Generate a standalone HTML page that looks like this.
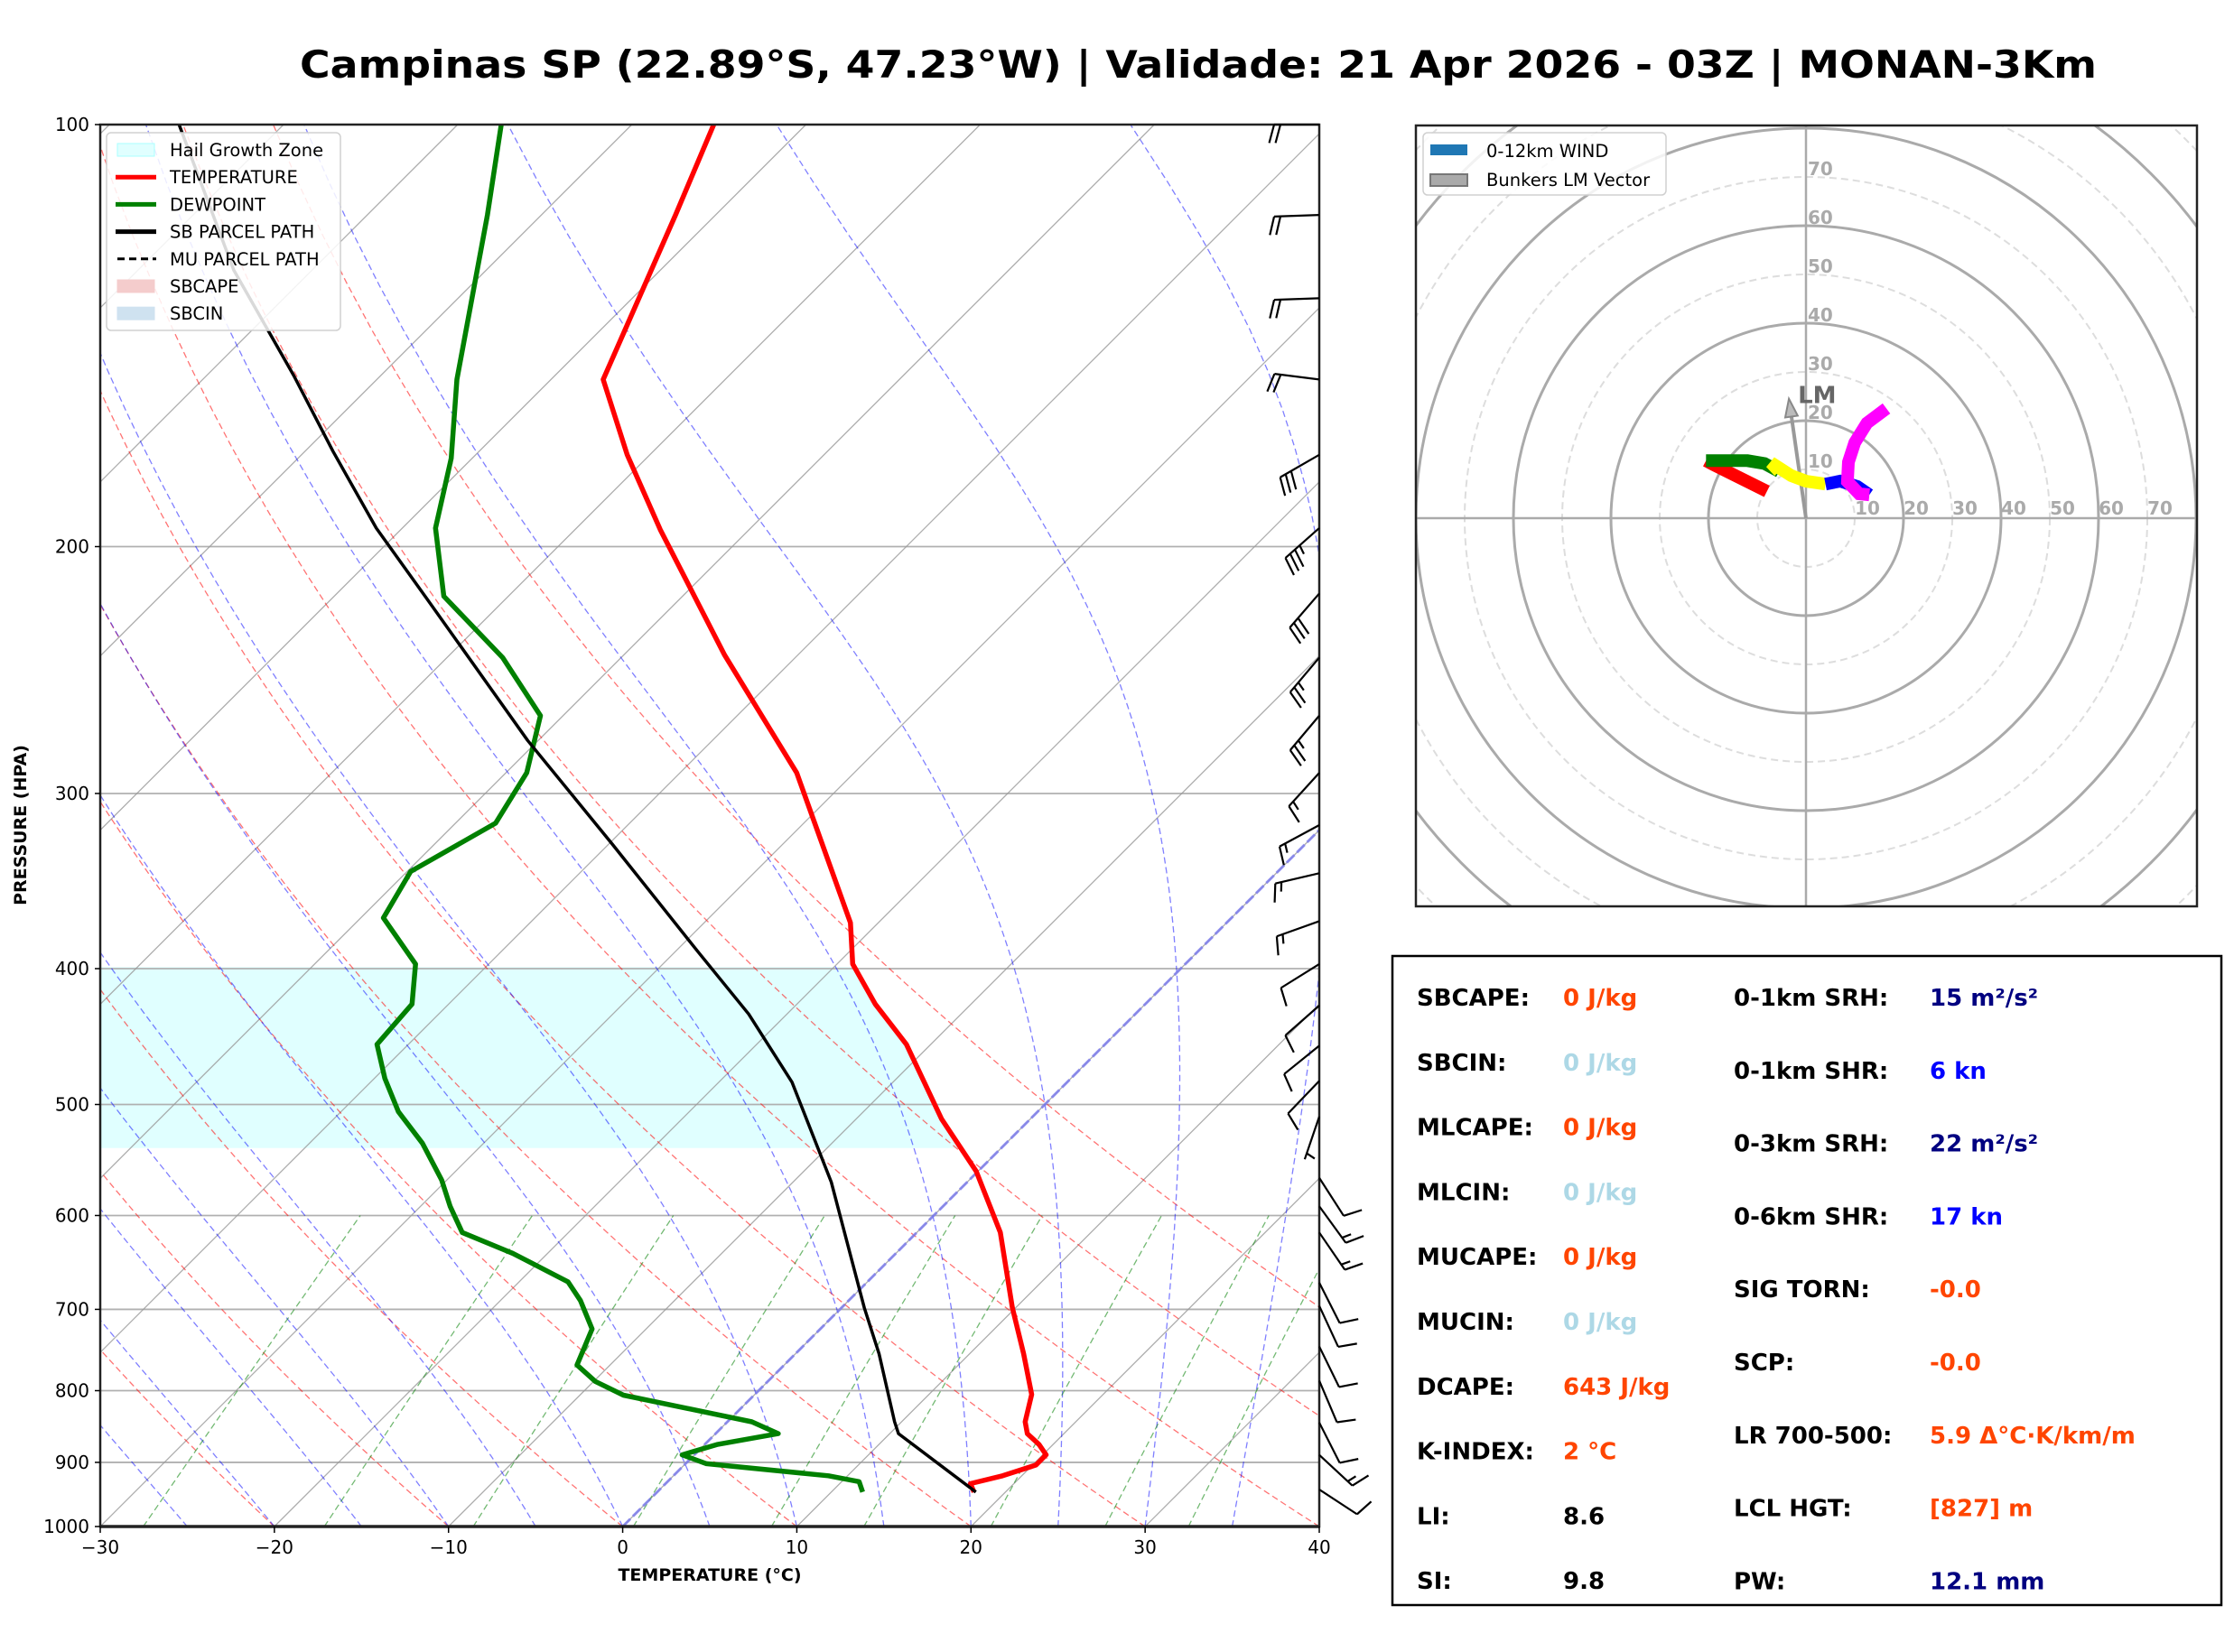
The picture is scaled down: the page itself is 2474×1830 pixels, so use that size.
<!DOCTYPE html>
<html><head><meta charset="utf-8">
<style>
html,body{margin:0;padding:0;background:#fff;}
svg{display:block;}
text{font-family:"DejaVu Sans","Liberation Sans",sans-serif;}
</style></head>
<body>
<svg id="fig" xmlns="http://www.w3.org/2000/svg" width="2474" height="1830" viewBox="0 0 2474 1830">
<rect x="0" y="0" width="2474" height="1830" fill="#fff"/>
<text x="332" y="86" font-size="42" font-weight="bold" textLength="1990" lengthAdjust="spacingAndGlyphs">Campinas SP (22.89°S, 47.23°W) | Validade: 21 Apr 2026 - 03Z | MONAN-3Km</text>
<defs>
<clipPath id="skclip"><rect x="111" y="138" width="1350" height="1553"/></clipPath>
<clipPath id="hodoclip"><rect x="1568" y="139" width="865" height="865"/></clipPath>
</defs>
<g id="skew"></g>
<g id="hodo"></g>
<g id="table"></g>
</svg>
<script>
// ---------- Sounding data ----------
const tempP = [945,932,920,904,889,874,858.5,842,805,753,698,617,558,512,453,424,397,371,290,239,194.5,172,152,116,100];
const tempT = [18.2,17.5,18.9,20.2,20.2,19.2,17.9,17.1,15.9,13.1,9.8,4.8,-0.1,-5.1,-11.4,-15.5,-19.1,-21.6,-33.3,-44.2,-55.1,-61.3,-67,-72.3,-75.3];
const dewP = [945,929,920,902,889,874,858.5,842,806,788,767,723,690,669,638.5,617,591,566,533,506,479,453,424,397,368,341,315,290,264,240,217,194,173,152,116,100];
const dewT = [11.8,11,8.9,1.2,-0.7,0.7,3.6,1.4,-7.5,-9.9,-11.9,-13.1,-15.4,-17.2,-22,-26.1,-28.3,-30.3,-33.5,-36.7,-39.4,-41.8,-42.1,-44.2,-48.7,-49.8,-47.7,-48.8,-51.3,-56.8,-63.7,-68.1,-71.2,-75.4,-83.1,-87.5];
const parcelP = [945,858.5,842,753,698,568,482,431,389,326,275,218,194,171,151,127,100];
const parcelT = [18.3,10.5,9.6,4.8,1.3,-7.8,-15.8,-22.2,-28.7,-39.8,-50.6,-64.5,-71.5,-78.4,-85,-94.5,-106];
const barbP = [100,116,133,152,172,194,216,240,264,290,316,342,370,397,425,454,481,510,564,591,617,670,696,744,787,843,889,941];
const barbU = [20,20,20,19.8,26,26,19.5,16,16,10,13,14.6,14,8.5,7.5,7.8,6.9,1.6,-5.4,-8.8,-8.5,-4.5,-4.2,-4.4,-3.9,-4.5,-11,-8.4];
const barbV = [0,0.7,0.7,-2.5,15,23,22.6,19,19,11,7,3.4,5,5.3,6.6,6.3,7.2,4.7,8.4,12.1,12.4,8.9,9.1,9,9.2,8.9,10.2,5.5];
const pressureTicks = [100,200,300,400,500,600,700,800,900,1000];
const tempTicks = [-30,-20,-10,0,10,20,30,40];
const hailTopP = 399, hailBotP = 537;
// ---------- Hodograph data ----------
const hodoU = [-8,-12,-16,-19,-20.5, -17.5,-12,-8.5,-5.5, -7.2,-3,0,4, 7,10.5,13, 10.9,8.5,8.7,10,12.5,16.5];
const hodoV = [5.5,7.5,9.5,11,11.8, 11.8,11.8,11.2,9.6, 11.4,8.7,7.6,7, 7.6,6.5,4.8, 5,7.5,11.5,15.5,19.5,22.5];
const hodoGroup = [0,0,0,0,0, 1,1,1,1, 2,2,2,2, 3,3,3, 4,4,4,4,4,4];
const hodoColors = ['#ff0000','#008000','#ffff00','#0000ff','#ff00ff'];
const lmU = -3.5, lmV = 24.5;
const ringKnots = [10,20,30,40,50,60,70,80,90,100,110,120];

const NS='http://www.w3.org/2000/svg';
function el(tag, attrs, parent){const e=document.createElementNS(NS,tag);for(const k in attrs)e.setAttribute(k,attrs[k]);parent.appendChild(e);return e;}

const X0=111,X1=1461,Y0=138,Y1=1691,PX=(1461-111)/70;
function yP(p){return Y1-1553*Math.log10(1000/p);}
function xT(t,p){return X0+(t+30)*PX+(Y1-yP(p));}
function ptsStr(P,T){return P.map((p,i)=>xT(T[i],p).toFixed(1)+','+yP(p).toFixed(1)).join(' ');}

const skew=document.getElementById('skew');
const bg=el('g',{'clip-path':'url(#skclip)'},skew);



function interpT(p){for(let i=0;i<tempP.length-1;i++){const a=tempP[i],b=tempP[i+1];if(p<=a&&p>=b){const f=Math.log(a/p)/Math.log(a/b);return tempT[i]+f*(tempT[i+1]-tempT[i]);}}return tempT[tempT.length-1];}
// hail growth zone
(function(){
  const pts=[];const steps=40;
  for(let i=0;i<=steps;i++){const p=hailTopP+(hailBotP-hailTopP)*i/steps;
    let t=interpT(p);pts.push(xT(t,p).toFixed(1)+','+yP(p).toFixed(1));}
  pts.push(X0+','+yP(hailBotP).toFixed(1));pts.push(X0+','+yP(hailTopP).toFixed(1));
  const h=el('polygon',{points:pts.join(' '),fill:'#e0ffff',stroke:'none'},bg);
  
  
})();

// pressure gridlines
pressureTicks.forEach(p=>{const l=el('line',{x1:X0,x2:X1,y1:yP(p),y2:yP(p),stroke:'#b0b0b0','stroke-width':1.8},bg);
  
  });
// isotherms
for(let t=-110;t<=40;t+=10){const l=el('line',{x1:xT(t,1000),y1:Y1,x2:xT(t,100),y2:Y0,stroke:'#999','stroke-width':1.3,'stroke-opacity':0.8},bg);
  
  }
// dry adiabats
for(let th=-30;th<=60;th+=10){const pts=[];for(let p=1000;p>=100;p-=10){const t=(th+273.15)*Math.pow(p/1000,0.2857)-273.15;pts.push(xT(t,p).toFixed(1)+','+yP(p).toFixed(1));}
  const l=el('polyline',{points:pts.join(' '),fill:'none',stroke:'#ff0000','stroke-opacity':0.55,'stroke-width':1.3,'stroke-dasharray':'7,4'},bg);
  
  }
// moist adiabats
function es(T){return 6.112*Math.exp(17.67*(T-273.15)/(T-29.65));}
for(let t0=-30;t0<=40;t0+=5){let T=t0+273.15;const pts=[];
  for(let p=1000;p>=100;p-=2){if(p%10===0)pts.push(xT(T-273.15,p).toFixed(1)+','+yP(p).toFixed(1));
    const e=es(T),rs=0.622*e/(p-e);const Rd=287.04,Cp=1005.7,Lv=2.501e6;
    const dTdp=(1/p)*(Rd*T+Lv*rs)/(Cp+Lv*Lv*rs*0.622/(Rd*T*T));T-=dTdp*2;}
  const l=el('polyline',{points:pts.join(' '),fill:'none',stroke:'#0000ff','stroke-opacity':0.5,'stroke-width':1.3,'stroke-dasharray':'7,4'},bg);
  
  }
// mixing ratio lines
[0.0004,0.001,0.002,0.004,0.007,0.01,0.016,0.024,0.032].forEach(w=>{const pts=[];
  for(let p=1000;p>=600;p-=20){const e=w*p/(0.622+w);const g=Math.log(e/6.112);const td=243.5*g/(17.67-g);pts.push(xT(td,p).toFixed(1)+','+yP(p).toFixed(1));}
  const l=el('polyline',{points:pts.join(' '),fill:'none',stroke:'#008000','stroke-opacity':0.55,'stroke-width':1.3,'stroke-dasharray':'7,4'},bg);
  
  });
// freezing isotherm
(function(){const l=el('line',{x1:xT(0,1000),y1:Y1,x2:xT(0,100),y2:Y0,stroke:'#7b7bef','stroke-opacity':0.8,'stroke-width':3,'stroke-dasharray':'12,4'},bg);
  
  })();

// profiles
const tl=el('polyline',{points:ptsStr(tempP,tempT),fill:'none',stroke:'#ff0000','stroke-width':5.5,'stroke-linejoin':'round'},bg);


const dl=el('polyline',{points:ptsStr(dewP,dewT),fill:'none',stroke:'#008000','stroke-width':5.5,'stroke-linejoin':'round'},bg);


const pl=el('polyline',{points:ptsStr(parcelP,parcelT),fill:'none',stroke:'#000','stroke-width':3.5,'stroke-linejoin':'round'},bg);



// frame
const fr=el('rect',{x:X0,y:Y0,width:X1-X0,height:Y1-Y0,fill:'none',stroke:'#222','stroke-width':2.5},skew);


el('line',{x1:X0,x2:X1,y1:Y1,y2:Y1,stroke:'#222','stroke-width':3.5},skew);

// ticks
pressureTicks.forEach(p=>{const y=yP(p);el('line',{x1:X0-6,x2:X0,y1:y,y2:y,stroke:'#000','stroke-width':1.5},skew);
  const t=el('text',{x:X0-12,y:y+7,'font-size':20,'text-anchor':'end'},skew);t.textContent=p;
  
  });
tempTicks.forEach(v=>{const x=xT(v,1000);el('line',{x1:x,x2:x,y1:Y1,y2:Y1+7,stroke:'#000','stroke-width':1.5},skew);
  const t=el('text',{x:x,y:Y1+30,'font-size':20,'text-anchor':'middle'},skew);t.textContent=(v<0?'\u2212'+(-v):''+v);
  
  });
(function(){const t=el('text',{x:786,y:1751,'font-size':19,'font-weight':'bold','text-anchor':'middle'},skew);t.textContent='TEMPERATURE (°C)';
  
  
  const t2=el('text',{x:0,y:0,'font-size':19,'font-weight':'bold','text-anchor':'middle',transform:'translate(29,914) rotate(-90)'},skew);t2.textContent='PRESSURE (HPA)';
  
  })();

// wind barbs
barbP.forEach((p,i)=>{const u=barbU[i],v=barbV[i];const s=Math.hypot(u,v);const dx=-u/s,dy=v/s;
  const bx=X1,by=yP(p),L=50;const tx=bx+dx*L,ty=by+dy*L;
  const g=el('g',{stroke:'#000','stroke-width':2.2,fill:'none'},skew);
  
  
  el('line',{x1:bx,y1:by,x2:tx,y2:ty},g);
  const px=dy,py=-dx;const r=Math.round(s/5)*5;let full=Math.floor(r/10),half=(r%10)>=5;
  let pos=0;for(let k=0;k<full;k++){const sx=tx-dx*pos,sy=ty-dy*pos;el('line',{x1:sx,y1:sy,x2:sx+21*(0.97*px+0.26*dx),y2:sy+21*(0.97*py+0.26*dy)},g);pos+=7;}
  if(half){if(full===0)pos=7;const sx=tx-dx*pos,sy=ty-dy*pos;el('line',{x1:sx,y1:sy,x2:sx+10.5*(0.97*px+0.26*dx),y2:sy+10.5*(0.97*py+0.26*dy)},g);}
});

// skew-T legend
(function(){const g=el('g',{},skew);
  
  
  el('rect',{x:118,y:147,width:259,height:219,rx:5,fill:'#fff','fill-opacity':0.85,stroke:'#d0d0d0','stroke-width':1.5},g);
  const items=[['Hail Growth Zone','patch','#e0ffff','#aaffff'],['TEMPERATURE','line','#ff0000'],['DEWPOINT','line','#008000'],['SB PARCEL PATH','line','#000'],['MU PARCEL PATH','dash','#000'],['SBCAPE','patch','#f4cccc','#f4cccc'],['SBCIN','patch','#cfe2f0','#cfe2f0']];
  items.forEach((it,i)=>{const y=166+i*30.2;
    if(it[1]==='patch')el('rect',{x:130,y:y-7,width:41,height:14,fill:it[2],stroke:it[3],'stroke-width':1},g);
    else if(it[1]==='line')el('line',{x1:128,x2:173,y1:y,y2:y,stroke:it[2],'stroke-width':5},g);
    else el('line',{x1:130,x2:173,y1:y,y2:y,stroke:it[2],'stroke-width':3,'stroke-dasharray':'8,5'},g);
    const t=el('text',{x:188,y:y+7,'font-size':19.5},g);t.textContent=it[0];
    
    });})();

// ---------- Hodograph ----------
const hodo=document.getElementById('hodo');
const HC={x:2000,y:574},KN=5.4;
const hg=el('g',{'clip-path':'url(#hodoclip)'},hodo);
ringKnots.forEach(k=>{const solid=(k%20===0);const c=el('circle',{cx:HC.x,cy:HC.y,r:k*KN,fill:'none',stroke:solid?'#aaa':'#ddd','stroke-width':solid?3:2,'stroke-dasharray':solid?'none':'8,5'},hg);
  
  });
el('line',{x1:1568,x2:2433,y1:HC.y,y2:HC.y,stroke:'#aaa','stroke-width':2.5},hg);
el('line',{x1:HC.x,x2:HC.x,y1:139,y2:1004,stroke:'#aaa','stroke-width':2.5},hg);
[10,20,30,40,50,60,70].forEach(k=>{const t=el('text',{x:HC.x+k*KN+14,y:HC.y-4,'font-size':20,'font-weight':'bold',fill:'#aaa','text-anchor':'middle'},hodo);t.textContent=k;
  
  
  const t2=el('text',{x:HC.x+2,y:HC.y-k*KN-2,'font-size':20,'font-weight':'bold',fill:'#aaa'},hodo);t2.textContent=k;
  
  });
// LM vector
(function(){const ex=HC.x+lmU*KN,ey=HC.y-lmV*KN;const ang=Math.atan2(ey-HC.y,ex-HC.x);
  const L=Math.hypot(ex-HC.x,ey-HC.y)-20;const sx=HC.x+L*Math.cos(ang),sy=HC.y+L*Math.sin(ang);
  const a=el('line',{x1:HC.x,y1:HC.y,x2:sx,y2:sy,stroke:'#999','stroke-width':4},hodo);
  
  
  const nx=-Math.sin(ang),ny=Math.cos(ang);
  el('polygon',{points:`${ex},${ey} ${sx+nx*7},${sy+ny*7} ${sx-nx*7},${sy-ny*7}`,fill:'#bbb',stroke:'#888','stroke-width':2},hodo);
  const t=el('text',{x:ex+10,y:ey+5,'font-size':26,'font-weight':'bold',fill:'#666'},hodo);t.textContent='LM';
  
  })();
// wind trace
for(let g=0;g<hodoColors.length;g++){const pts=[];
  for(let i=0;i<hodoU.length;i++){if(hodoGroup[i]===g){if(pts.length===0&&i>0&&g>0)pts.push((HC.x+hodoU[i-1]*KN).toFixed(1)+','+(HC.y-hodoV[i-1]*KN).toFixed(1));pts.push((HC.x+hodoU[i]*KN).toFixed(1)+','+(HC.y-hodoV[i]*KN).toFixed(1));}}
  const l=el('polyline',{points:pts.join(' '),fill:'none',stroke:hodoColors[g],'stroke-width':14,'stroke-linejoin':'miter'},hodo);
  
  }
(function(){const f=el('rect',{x:1568,y:139,width:865,height:865,fill:'none',stroke:'#222','stroke-width':2.5},hodo);
  
  
  const g=el('g',{},hodo);
  
  
  el('rect',{x:1576,y:147,width:269,height:69,rx:5,fill:'#fff','fill-opacity':0.85,stroke:'#d0d0d0','stroke-width':1.5},g);
  el('rect',{x:1584,y:160,width:41,height:12,fill:'#1f77b4'},g);
  el('rect',{x:1584,y:193,width:41,height:13,fill:'#aaa',stroke:'#777','stroke-width':2},g);
  const t1=el('text',{x:1646,y:174,'font-size':19.5},g);t1.textContent='0-12km WIND';
  
  
  const t2=el('text',{x:1646,y:206,'font-size':19.5},g);t2.textContent='Bunkers LM Vector';
  
  })();

// ---------- Table ----------
const table=document.getElementById('table');
el('rect',{x:1542,y:1059,width:918,height:719,fill:'#fff',stroke:'#000','stroke-width':2.5},table);
const OR='#ff4500',LB='#add8e6',NV='#000080',BL='#0000ff';
const col1=[['SBCAPE:','0 J/kg',OR],['SBCIN:','0 J/kg',LB],['MLCAPE:','0 J/kg',OR],['MLCIN:','0 J/kg',LB],['MUCAPE:','0 J/kg',OR],['MUCIN:','0 J/kg',LB],['DCAPE:','643 J/kg',OR],['K-INDEX:','2 °C',OR],['LI:','8.6','#000'],['SI:','9.8','#000']];
const col2=[['0-1km SRH:','15 m²/s²',NV],['0-1km SHR:','6 kn',BL],['0-3km SRH:','22 m²/s²',NV],['0-6km SHR:','17 kn',BL],['SIG TORN:','-0.0',OR],['SCP:','-0.0',OR],['LR 700-500:','5.9 Δ°C·K/km/m',OR],['LCL HGT:','[827] m',OR],['PW:','12.1 mm',NV]];
col1.forEach((r,i)=>{const y=1114+i*71.8;
  const a=el('text',{x:1569,y:y,'font-size':26,'font-weight':'bold'},table);a.textContent=r[0];
  
  
  const b=el('text',{x:1731,y:y,'font-size':26,'font-weight':'bold',fill:r[2]},table);b.textContent=r[1];
  
  });
col2.forEach((r,i)=>{const y=1114+i*80.8;
  const a=el('text',{x:1920,y:y,'font-size':26,'font-weight':'bold'},table);a.textContent=r[0];
  
  
  const b=el('text',{x:2137,y:y,'font-size':26,'font-weight':'bold',fill:r[2]},table);b.textContent=r[1];
  
  });
</script>
</body></html>
